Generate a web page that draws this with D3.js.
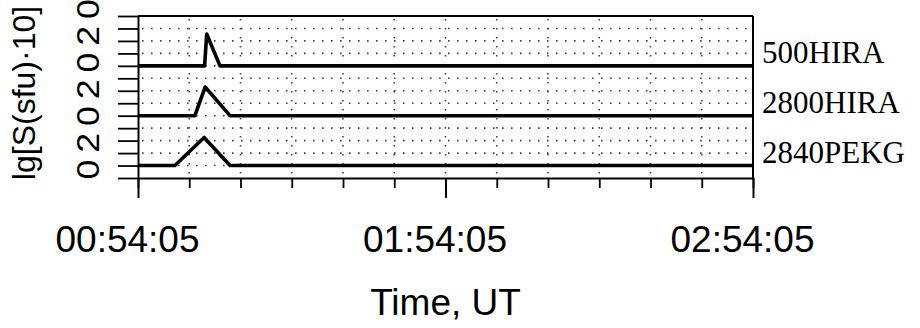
<!DOCTYPE html>
<html>
<head>
<meta charset="utf-8">
<script src="https://cdn.jsdelivr.net/npm/d3@7"></script>
<style>
    body { margin: 0; background: #fff; }
    svg { display: block; }
    .axis path, .axis line { stroke: #000; }
</style>
</head>
<body>
<div id="chart"></div>
<script>
// series, one panel each, bottom to top
const seriesNames = ["2840PEKG", "2800HIRA", "500HIRA"];
const panelBase = [0, 4, 8];

const pekgTimes = ["00:54:05", "01:01:17", "01:06:59", "01:12:02", "02:54:05"];
const pekgValues = [0, 0, 2.25, 0, 0];

const hira2800Times = ["00:54:05", "01:05:11", "01:07:11", "01:12:02", "02:54:05"];
const hira2800Values = [0, 0, 2.3, 0, 0];

const hira500Times = ["00:54:05", "01:07:05", "01:07:29", "01:10:05", "02:54:05"];
const hira500Values = [0, 0, 2.55, 0, 0];

const xTickLabels = ["00:54:05", "01:54:05", "02:54:05"];
const yTickValues = [0, 2, 4, 6, 8, 10, 12];
const yTickLabels = ["0", "2", "0", "2", "0", "2", "0"];

const WIDTH = 920, HEIGHT = 328;
const MARGINS = { left: 138, right: 167, top: 16, bottom: 150 };
const SANS = "'Liberation Sans', Arial, sans-serif";
const SERIF = "'Liberation Serif', 'Times New Roman', serif";

const parseTime = d3.utcParse("%H:%M:%S");

const svg = d3.select("#chart").append("svg")
    .attr("width", WIDTH)
    .attr("height", HEIGHT);

const t0 = parseTime(xTickLabels[0]);
const t1 = parseTime(xTickLabels[xTickLabels.length - 1]);

const xScale = d3.scaleUtc()
    .domain([t0, t1])
    .range([MARGINS.left, WIDTH - MARGINS.right]);

const yScale = d3.scaleLinear()
    .domain([-1, 12])
    .range([HEIGHT - MARGINS.bottom, MARGINS.top]);

// ten minute steps from the first label
const minorTicks = d3.range(0, 121, 10).map(m => d3.utcMinute.offset(t0, m));
const majorTicks = xTickLabels.map(parseTime);

const x0 = xScale.range()[0], x1 = xScale.range()[1];
const yTop = yScale(12), yBottom = yScale(-1);

// dotted grid
const grid = svg.append("g").attr("class", "grid")
    .attr("stroke", "#444")
    .attr("stroke-width", 1.6)
    .attr("stroke-dasharray", "1.6,7.4");

grid.selectAll(".hgrid")
    .data(d3.range(0, 12))
    .enter().append("line")
    .attr("x1", x0 + 4).attr("x2", x1 - 2)
    .attr("y1", d => yScale(d)).attr("y2", d => yScale(d));

grid.selectAll(".vgrid")
    .data(minorTicks.slice(1, -1))
    .enter().append("line")
    .attr("x1", d => xScale(d)).attr("x2", d => xScale(d))
    .attr("y1", yTop + 3).attr("y2", yBottom);

// frame
svg.append("line")
    .attr("x1", x0).attr("x2", x1)
    .attr("y1", yTop).attr("y2", yTop)
    .attr("stroke", "#000").attr("stroke-width", 2);
svg.append("line")
    .attr("x1", x1).attr("x2", x1)
    .attr("y1", yTop).attr("y2", yBottom)
    .attr("stroke", "#000").attr("stroke-width", 2);

// y axis: unlabelled ticks
svg.append("g")
    .attr("class", "axis")
    .attr("transform", "translate(" + x0 + ",0)")
    .call(d3.axisLeft(yScale).tickValues(d3.range(-1, 13)).tickSize(20).tickSizeOuter(0).tickFormat(""))
    .call(g => g.selectAll("line").attr("stroke-width", 1.8))
    .call(g => g.select(".domain").attr("stroke-width", 2));

// x axis: minor then major ticks
svg.append("g")
    .attr("class", "axis")
    .attr("transform", "translate(0," + yBottom + ")")
    .call(d3.axisBottom(xScale).tickValues(minorTicks).tickSize(10).tickSizeOuter(0).tickFormat(""))
    .call(g => g.selectAll("line").attr("stroke-width", 1.8))
    .call(g => g.select(".domain").attr("stroke-width", 2));

svg.append("g")
    .attr("class", "axis")
    .attr("transform", "translate(0," + yBottom + ")")
    .call(d3.axisBottom(xScale).tickValues(majorTicks).tickSize(20).tickSizeOuter(0)
        .tickFormat((d, i) => xTickLabels[i]))
    .call(g => g.select(".domain").remove())
    .call(g => g.selectAll("line").attr("stroke-width", 2))
    .call(g => g.selectAll("text")
        .attr("y", 0).attr("dy", 0)
        .attr("transform", "translate(-11," + (252 - yBottom) + ")")
        .attr("font-family", SANS)
        .attr("font-size", 37)
        .attr("fill", "#000"));

// y tick labels, rotated like the rest of the y axis
const yLabelPos = d3.scaleLinear()
    .domain([0, 12])
    .range([yScale(0) + 4, yScale(12) - 7]);

svg.append("g")
    .attr("class", "ylabels")
    .selectAll("text")
    .data(yTickValues)
    .enter().append("text")
    .attr("transform", d => "translate(99," + yLabelPos(d) + ") rotate(-90) scale(1.15,1)")
    .attr("text-anchor", "middle")
    .style("font-family", SANS)
    .style("font-size", "31px")
    .attr("fill", "#000")
    .text((d, i) => yTickLabels[i]);

// series
const series = [
    { name: seriesNames[0], base: panelBase[0], times: pekgTimes, values: pekgValues },
    { name: seriesNames[1], base: panelBase[1], times: hira2800Times, values: hira2800Values },
    { name: seriesNames[2], base: panelBase[2], times: hira500Times, values: hira500Values }
];

const line = d3.line()
    .x(d => xScale(d.t))
    .y(d => yScale(d.v));

series.forEach(s => {
    const pts = s.times.map((t, i) => ({ t: parseTime(t), v: s.base + s.values[i] }));
    svg.append("path")
        .datum(pts)
        .attr("d", line)
        .attr("fill", "none")
        .attr("stroke", "#000")
        .attr("stroke-width", 3.6)
        .attr("stroke-linejoin", "round");

    svg.append("text")
        .attr("x", x1 + 9)
        .attr("y", yScale(s.base) - 3)
        .attr("font-family", SERIF)
        .attr("font-size", 31)
        .attr("fill", "#000")
        .text(s.name);
});

// axis titles
svg.append("text")
    .attr("transform", "translate(35,93) rotate(-90)")
    .attr("text-anchor", "middle")
    .attr("font-family", SANS)
    .attr("font-size", 32)
    .attr("fill", "#000")
    .text("lg[S(sfu)·10]");

svg.append("text")
    .attr("x", (x0 + x1) / 2)
    .attr("y", 315)
    .attr("text-anchor", "middle")
    .attr("font-family", SANS)
    .attr("font-size", 37)
    .attr("fill", "#000")
    .text("Time, UT");
</script>
</body>
</html>
